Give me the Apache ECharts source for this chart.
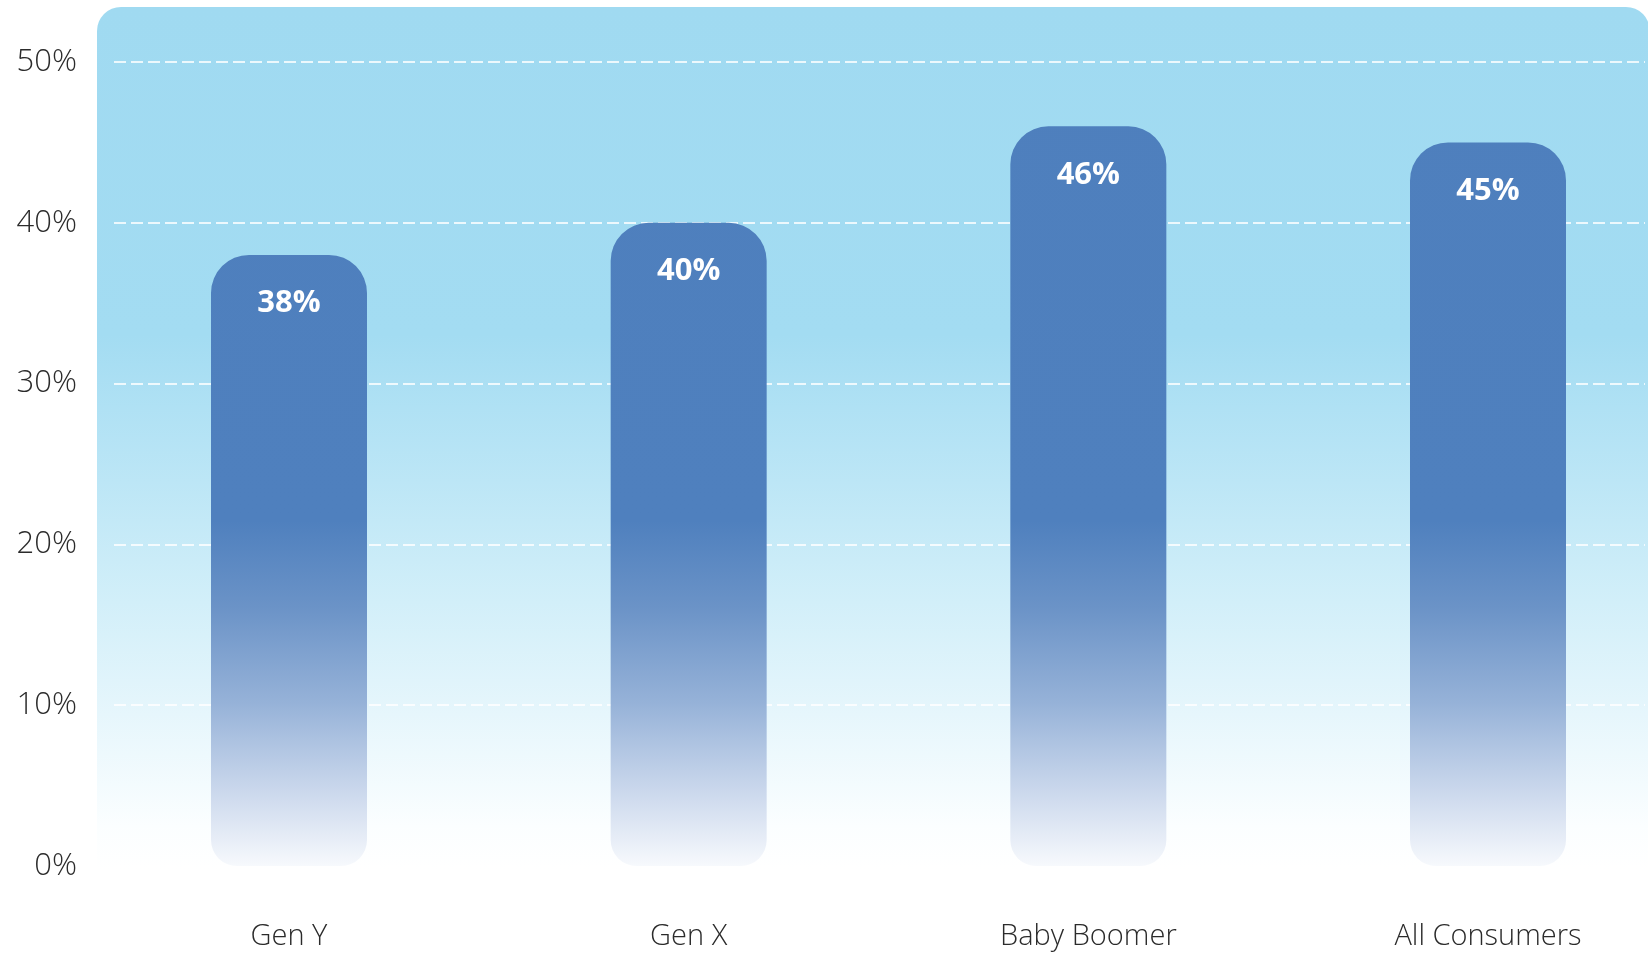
<!DOCTYPE html>
<html>
<head>
<meta charset="utf-8">
<script src="https://cdn.jsdelivr.net/npm/echarts@6/dist/echarts.min.js"></script>
<style>
html,body{margin:0;padding:0;background:#fff;}
#chart{width:1648px;height:953px;}
</style>
</head>
<body>
<div id="chart"></div>
<script>
const categories = ['Gen Y', 'Gen X', 'Baby Boomer', 'All Consumers'];
const values = [38, 40, 46, 45];
const yTicks = [0, 10, 20, 30, 40, 50];

const chart = echarts.init(document.getElementById('chart'));

const barGradient = new echarts.graphic.LinearGradient(0, 0, 0, 868, [
  {offset: 0, color: '#4e7fbd'},
  {offset: 0.6, color: '#4f80be'},
  {offset: 0.7, color: '#6b93c7'},
  {offset: 0.81, color: '#96b2d8'},
  {offset: 0.92, color: '#cfdbee'},
  {offset: 1, color: '#f8fafd'}
], true);

const panelGradient = new echarts.graphic.LinearGradient(0, 0, 0, 1, [
  {offset: 0, color: '#a0daf1'},
  {offset: 0.38, color: '#a3dcf2'},
  {offset: 0.55, color: '#bce6f6'},
  {offset: 0.69, color: '#d2eff9'},
  {offset: 0.82, color: '#e6f6fc'},
  {offset: 0.95, color: '#fbfeff'},
  {offset: 1, color: '#ffffff'}
]);

const option = {
  backgroundColor: '#ffffff',
  animation: false,
  graphic: {
    elements: [{
      type: 'rect',
      left: 97,
      top: 7,
      z: -10,
      shape: {width: 1553, height: 862, r: [24, 24, 0, 0]},
      style: {fill: panelGradient}
    }]
  },
  grid: [
    {left: 114, right: 3, top: 62, bottom: 87},
    {left: 289, right: 160, top: 62, bottom: 87}
  ],
  xAxis: [
    {gridIndex: 0, type: 'category', data: categories, show: false},
    {
      gridIndex: 1,
      type: 'category',
      data: categories,
      boundaryGap: false,
      axisLine: {show: false},
      axisTick: {show: false},
      splitLine: {show: false},
      axisLabel: {
        margin: 56,
        fontSize: 29,
        fontFamily: 'Open Sans',
        fontWeight: 300,
        color: '#2b2b2b'
      }
    }
  ],
  yAxis: [
    {
      gridIndex: 0,
      type: 'value',
      min: yTicks[0],
      max: yTicks[yTicks.length - 1],
      interval: 10,
      axisLine: {show: false},
      axisTick: {show: false},
      axisLabel: {
        margin: 37,
        fontSize: 31,
        fontFamily: 'Open Sans',
        fontWeight: 300,
        color: '#2b2b2b',
        formatter: v => v + '%'
      },
      splitLine: {
        show: true,
        lineStyle: {color: 'rgba(255,255,255,0.8)', width: 2, type: [12, 5]}
      }
    },
    {
      gridIndex: 1,
      type: 'value',
      min: yTicks[0],
      max: yTicks[yTicks.length - 1],
      interval: 10,
      show: false,
      splitLine: {show: false}
    }
  ],
  series: [{
    type: 'bar',
    xAxisIndex: 1,
    yAxisIndex: 1,
    data: values,
    barWidth: 156,
    itemStyle: {
      color: barGradient,
      borderRadius: [38, 38, 26, 26]
    },
    label: {
      show: true,
      position: 'insideTop',
      distance: 33,
      fontSize: 31,
      fontWeight: 'bold',
      fontFamily: 'Open Sans',
      color: '#ffffff',
      formatter: p => p.value + '%'
    }
  }]
};
chart.setOption(option);
</script>
</body>
</html>
